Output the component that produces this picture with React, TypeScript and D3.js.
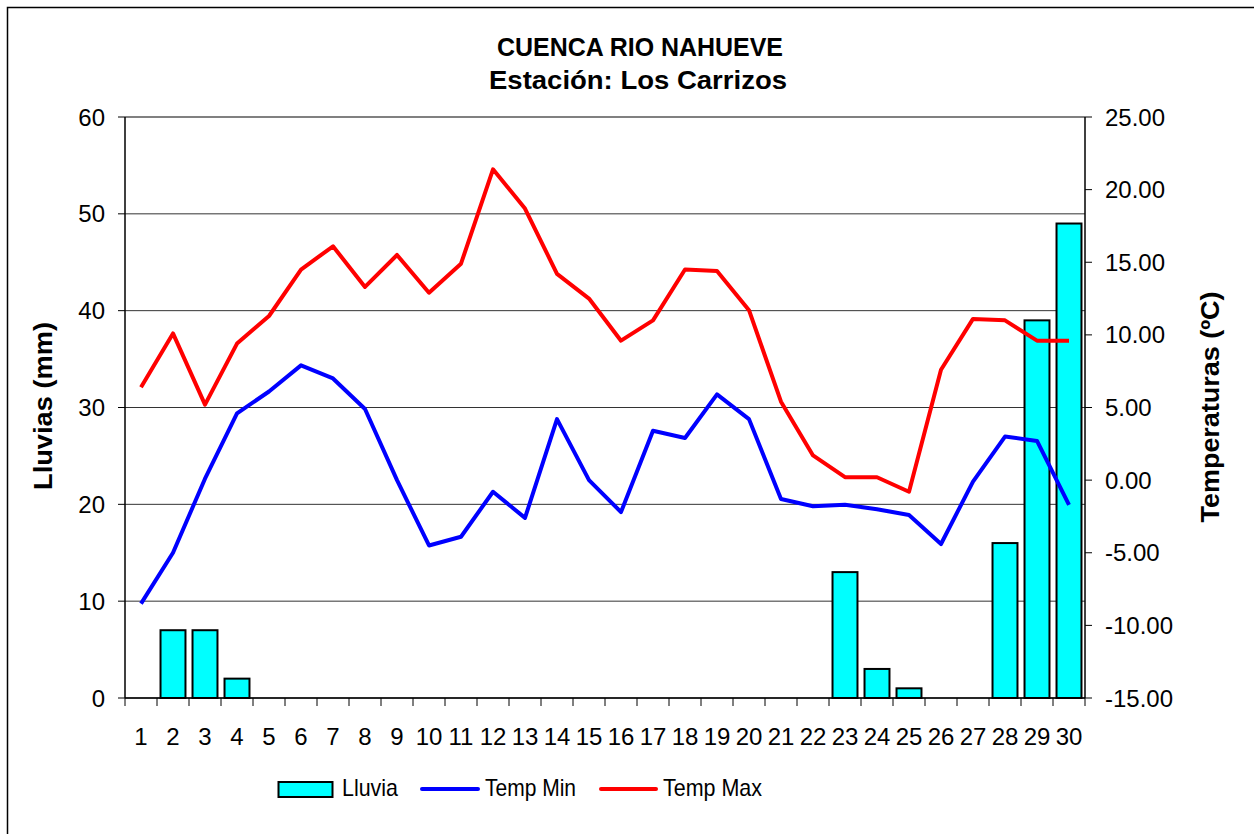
import React from "react";
import * as d3 from "d3";

const days = d3.range(1, 31).map(String);
const lluvia = [0, 7, 7, 2, 0, 0, 0, 0, 0, 0, 0, 0, 0, 0, 0, 0, 0, 0, 0, 0, 0, 0, 13, 3, 1, 0, 0, 16, 39, 49];
const tempMin = [-8.5, -5.0, 0.1, 4.6, 6.1, 7.9, 7.0, 4.9, 0.0, -4.5, -3.9, -0.8, -2.6, 4.2, 0.0, -2.2, 3.4, 2.9, 5.9, 4.2, -1.3, -1.8, -1.7, -2.0, -2.4, -4.4, -0.1, 3.0, 2.7, -1.7];
const tempMax = [6.4, 10.1, 5.2, 9.4, 11.3, 14.5, 16.1, 13.3, 15.5, 12.9, 14.9, 21.4, 18.7, 14.2, 12.5, 9.6, 11.0, 14.5, 14.4, 11.7, 5.4, 1.7, 0.2, 0.2, -0.8, 7.6, 11.1, 11.0, 9.6, 9.6];
const leftTicks = [0, 10, 20, 30, 40, 50, 60];
const rightTicks = [-15, -10, -5, 0, 5, 10, 15, 20, 25];
const titleLines = ["CUENCA RIO NAHUEVE", "Estación: Los Carrizos"];

const FONT = "'Liberation Sans', Arial, sans-serif";

export default function App() {
  const left = 125, right = 1085, top = 117, bottom = 698;
  const xb = d3.scaleBand<string>().domain(days).range([left, right]);
  const yL = d3.scaleLinear().domain([0, 60]).range([bottom, top]);
  const yR = d3.scaleLinear().domain([-15, 25]).range([bottom, top]);
  const cx = (d: string) => (xb(d) as number) + xb.bandwidth() / 2;
  const barW = xb.bandwidth() * 0.78;
  const lineT = d3.line<number>().x((_, i) => cx(days[i])).y((v) => yR(v));

  return (
    <div style={{ position: "fixed", left: 0, top: 0 }}>
      <svg width={1254} height={834} style={{ display: "block", background: "#fff" }} fontFamily={FONT}>
        <rect x={7.5} y={7.5} width={1260} height={840} fill="#fff" stroke="#000" strokeWidth={1.5} />
        {/* title */}
        <text x={640} y={56} textAnchor="middle" fontSize={25} fontWeight="bold" textLength={286} lengthAdjust="spacingAndGlyphs">{titleLines[0]}</text>
        <text x={638} y={89} textAnchor="middle" fontSize={25} fontWeight="bold" textLength={298} lengthAdjust="spacingAndGlyphs">{titleLines[1]}</text>
        {/* gridlines */}
        {leftTicks.map((t) => (
          <line key={"g" + t} x1={left} x2={right} y1={yL(t)} y2={yL(t)} stroke={t === 60 ? "#808080" : "#333"} strokeWidth={t === 60 ? 2 : 1} />
        ))}
        {/* bars */}
        {lluvia.map((v, i) =>
          v > 0 ? (
            <rect key={"b" + i} x={cx(days[i]) - barW / 2} y={yL(v)} width={barW} height={yL(0) - yL(v)} fill="#00FFFF" stroke="#000" strokeWidth={2} />
          ) : null
        )}
        {/* lines */}
        <path d={lineT(tempMin) || ""} fill="none" stroke="#0000FF" strokeWidth={4} strokeLinejoin="round" />
        <path d={lineT(tempMax) || ""} fill="none" stroke="#FF0000" strokeWidth={4} strokeLinejoin="round" />
        {/* axes */}
        <line x1={left} x2={left} y1={top} y2={bottom} stroke="#000" strokeWidth={1.5} />
        <line x1={right} x2={right} y1={top} y2={bottom} stroke="#000" strokeWidth={1.5} />
        <line x1={left} x2={right} y1={bottom} y2={bottom} stroke="#000" strokeWidth={1.5} />
        {leftTicks.map((t) => (
          <g key={"l" + t}>
            <line x1={left - 7} x2={left} y1={yL(t)} y2={yL(t)} stroke="#000" strokeWidth={1} />
            <text x={105} y={yL(t) + 8.5} textAnchor="end" fontSize={24}>{t}</text>
          </g>
        ))}
        {rightTicks.map((t) => (
          <g key={"r" + t}>
            <line x1={right} x2={right + 7} y1={yR(t)} y2={yR(t)} stroke="#000" strokeWidth={1} />
            <text x={1105} y={yR(t) + 8.5} textAnchor="start" fontSize={24}>{t.toFixed(2)}</text>
          </g>
        ))}
        {days.map((d) => (
          <text key={"x" + d} x={cx(d)} y={745} textAnchor="middle" fontSize={24}>{d}</text>
        ))}
        {[...days.map((d) => xb(d) as number), right].map((p, i) => (
          <line key={"t" + i} x1={p} x2={p} y1={bottom} y2={bottom + 8} stroke="#000" strokeWidth={1} />
        ))}
        {/* axis titles */}
        <text transform="translate(52,406) rotate(-90)" textAnchor="middle" fontSize={25} fontWeight="bold" textLength={168} lengthAdjust="spacingAndGlyphs">Lluvias (mm)</text>
        <text transform="translate(1219,407) rotate(-90)" textAnchor="middle" fontSize={25} fontWeight="bold" textLength={231} lengthAdjust="spacingAndGlyphs">Temperaturas (ºC)</text>
        {/* legend */}
        <rect x={278.5} y={782} width={54} height={15} fill="#00FFFF" stroke="#000" strokeWidth={2} />
        <text x={342} y={796} fontSize={24} textLength={56} lengthAdjust="spacingAndGlyphs">Lluvia</text>
        <line x1={422} x2={478} y1={789} y2={789} stroke="#0000FF" strokeWidth={4} strokeLinecap="round" />
        <text x={485} y={796} fontSize={24} textLength={91} lengthAdjust="spacingAndGlyphs">Temp Min</text>
        <line x1={601} x2={656} y1={789} y2={789} stroke="#FF0000" strokeWidth={4} strokeLinecap="round" />
        <text x={663} y={796} fontSize={24} textLength={99} lengthAdjust="spacingAndGlyphs">Temp Max</text>
      </svg>
    </div>
  );
}
